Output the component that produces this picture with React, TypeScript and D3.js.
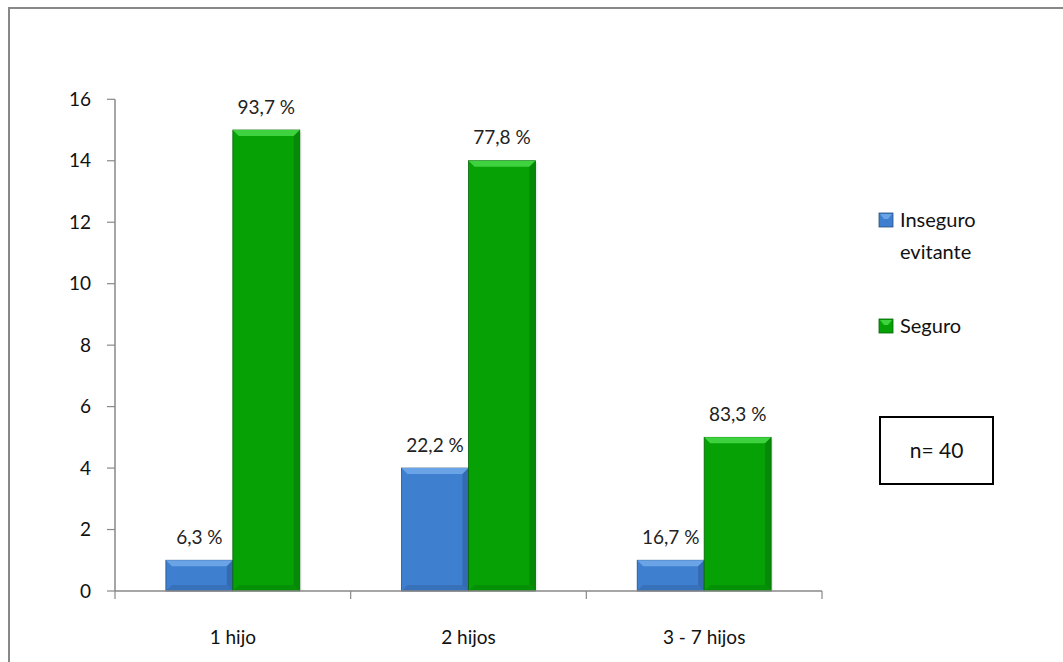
import React from "react";
import * as d3 from "d3";

const categories = ["1 hijo", "2 hijos", "3 - 7 hijos"];
const seriesNames = ["Inseguro evitante", "Seguro"];
const inseguroValues = [1, 4, 1];
const seguroValues = [15, 14, 5];
const inseguroLabels = ["6,3 %", "22,2 %", "16,7 %"];
const seguroLabels = ["93,7 %", "77,8 %", "83,3 %"];
const yTicks = [0, 2, 4, 6, 8, 10, 12, 14, 16];

const W = 1063;
const H = 662;
const FONT = "Lato, 'Open Sans', sans-serif";

const colors = {
  blue: { main: "#3f7fcf", light: "#6aa3e6", dark: "#2b5c9c", edge: "#25507f" },
  green: { main: "#05a105", light: "#3fd23f", dark: "#067a06", edge: "#046604" },
};

function Bar({ x, y, w, h, c }: { x: number; y: number; w: number; h: number; c: any }) {
  const b = Math.min(6, h / 3, w / 3);
  return (
    <g>
      <rect x={x + 2} y={y + 2} width={w} height={h - 2} fill="#000" opacity={0.08} />
      <rect x={x} y={y} width={w} height={h} fill={c.main} stroke={c.edge} strokeWidth={0.8} />
      <polygon points={`${x},${y} ${x + w},${y} ${x + w - b},${y + b} ${x + b},${y + b}`} fill={c.light} />
      <polygon points={`${x + w},${y} ${x + w},${y + h} ${x + w - b},${y + h - b} ${x + w - b},${y + b}`} fill={c.dark} opacity={0.6} />
      <polygon points={`${x},${y + h} ${x + w},${y + h} ${x + w - b},${y + h - b} ${x + b},${y + h - b}`} fill={c.dark} opacity={0.4} />
    </g>
  );
}

export default function App() {
  const left = 115;
  const right = 822;
  const top = 99.3;
  const bottom = 591;

  const x0 = d3.scaleBand<string>().domain(categories).range([left, right]).paddingInner(0).paddingOuter(0);
  const inner = d3.scaleBand<string>().domain(seriesNames).range([0, x0.bandwidth()]).paddingOuter(0.76).paddingInner(0);
  const y = d3.scaleLinear().domain([0, 16]).range([bottom, top]);

  const series = [
    { name: seriesNames[0], values: inseguroValues, labels: inseguroLabels, c: colors.blue },
    { name: seriesNames[1], values: seguroValues, labels: seguroLabels, c: colors.green },
  ];

  return (
    <svg width={W} height={H} style={{ position: "absolute", left: 0, top: 0, background: "#fff" }} fontFamily={FONT}>
      <rect x={0} y={0} width={W} height={H} fill="#fff" />
      <line x1={9} y1={8} x2={W} y2={8} stroke="#888" strokeWidth={2} />
      <line x1={9} y1={7} x2={9} y2={H} stroke="#888" strokeWidth={2} />

      <line x1={left} y1={top} x2={left} y2={bottom} stroke="#888" strokeWidth={1.5} />
      {yTicks.map((t) => (
        <g key={t}>
          <line x1={left - 8} x2={left} y1={y(t)} y2={y(t)} stroke="#888" strokeWidth={1.2} />
          <text x={left - 24} y={y(t)} dy="0.35em" textAnchor="end" fontSize={19} fill="#111">
            {t}
          </text>
        </g>
      ))}

      {categories.map((cat, i) => (
        <g key={cat}>
          {series.map((s) => {
            const bx = (x0(cat) as number) + (inner(s.name) as number);
            const bw = inner.bandwidth();
            const by = y(s.values[i]);
            return (
              <g key={s.name}>
                <Bar x={bx} y={by} w={bw} h={bottom - by} c={s.c} />
                <text x={bx + bw / 2} y={by - 23} dy="0.35em" textAnchor="middle" fontSize={19} fill="#222">
                  {s.labels[i]}
                </text>
              </g>
            );
          })}
        </g>
      ))}

      <line x1={left} y1={bottom} x2={right} y2={bottom} stroke="#888" strokeWidth={1.5} />
      {[left, ...categories.map((c) => (x0(c) as number) + x0.bandwidth())].map((tx, i) => (
        <line key={i} x1={tx} x2={tx} y1={bottom} y2={bottom + 8} stroke="#888" strokeWidth={1.2} />
      ))}
      {categories.map((cat) => (
        <text key={cat} x={(x0(cat) as number) + x0.bandwidth() / 2} y={637} dy="0.35em" textAnchor="middle" fontSize={19} fill="#111">
          {cat}
        </text>
      ))}

      <g>
        <rect x={879} y={213} width={14} height={14} fill={colors.blue.main} stroke={colors.blue.edge} strokeWidth={0.8} />
        <polygon points="880,214 892,214 888,219 884,219" fill={colors.blue.light} />
        <text x={900} y={220} dy="0.35em" fontSize={20} fill="#111">Inseguro</text>
        <text x={900} y={252} dy="0.35em" fontSize={20} fill="#111">evitante</text>
        <rect x={879} y={319} width={14} height={14} fill={colors.green.main} stroke={colors.green.edge} strokeWidth={0.8} />
        <polygon points="880,320 892,320 888,325 884,325" fill={colors.green.light} />
        <text x={900} y={326} dy="0.35em" fontSize={20} fill="#111">Seguro</text>
      </g>

      <rect x={880} y={417} width={113} height={67} fill="#fff" stroke="#000" strokeWidth={2} />
      <text x={936.5} y={450.5} dy="0.35em" textAnchor="middle" fontSize={21} fill="#111">
        n= 40
      </text>
    </svg>
  );
}
